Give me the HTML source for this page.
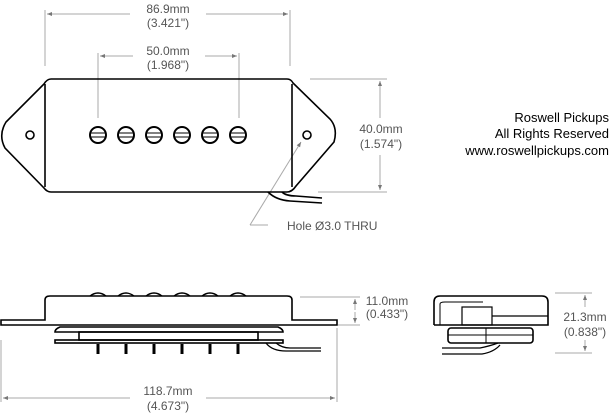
<!DOCTYPE html>
<html><head><style>body{margin:0;background:#fff}svg{display:block}text{font-family:"Liberation Sans",sans-serif}</style></head><body>
<svg width="614" height="416" viewBox="0 0 614 416" xmlns="http://www.w3.org/2000/svg">
<defs><marker id="a" viewBox="0 0 10 10" refX="10" refY="5" markerWidth="9" markerHeight="5" orient="auto-start-reverse"><path d="M0,1 L10,5 L0,9z" fill="#777"/></marker></defs>
<g stroke="#aaa" stroke-width="1" fill="none">
<line x1="45" y1="10" x2="45" y2="66"/><line x1="290" y1="10" x2="290" y2="66"/>
<line x1="47" y1="14" x2="130" y2="14" marker-start="url(#a)"/><line x1="206" y1="14" x2="288" y2="14" marker-end="url(#a)"/>
<line x1="98" y1="53" x2="98" y2="118"/><line x1="239" y1="53" x2="239" y2="118"/>
<line x1="100" y1="56" x2="133" y2="56" marker-start="url(#a)"/><line x1="205" y1="56" x2="237" y2="56" marker-end="url(#a)"/>
<line x1="310" y1="79" x2="387" y2="79"/><line x1="318" y1="192" x2="387" y2="192"/>
<line x1="380" y1="81" x2="380" y2="118" marker-start="url(#a)"/><line x1="380" y1="155" x2="380" y2="190" marker-end="url(#a)"/>
<line x1="250" y1="225" x2="301" y2="142" marker-end="url(#a)"/><line x1="250" y1="225" x2="268" y2="225"/>
<line x1="300" y1="297" x2="360" y2="297"/><line x1="338" y1="325" x2="360" y2="325"/>
<line x1="355" y1="299" x2="355" y2="310" marker-start="url(#a)"/><line x1="355" y1="312" x2="355" y2="323" marker-end="url(#a)"/>
<line x1="1" y1="340" x2="1" y2="402"/><line x1="337" y1="328" x2="337" y2="402"/>
<line x1="3" y1="398" x2="130" y2="398" marker-start="url(#a)"/><line x1="206" y1="398" x2="335" y2="398" marker-end="url(#a)"/>
<line x1="555" y1="293" x2="592" y2="293"/><line x1="555" y1="353" x2="592" y2="353"/>
<line x1="585" y1="295" x2="585" y2="307" marker-start="url(#a)"/><line x1="585" y1="340" x2="585" y2="351" marker-end="url(#a)"/>
</g>
<g fill="#555" font-size="12" text-anchor="middle">
<text x="168" y="13">86.9mm</text><text x="168" y="27">(3.421")</text>
<text x="168" y="55">50.0mm</text><text x="168" y="69">(1.968")</text>
<text x="381" y="133">40.0mm</text><text x="381" y="148">(1.574")</text>
<text x="387" y="305">11.0mm</text><text x="387" y="318">(0.433")</text>
<text x="168" y="395">118.7mm</text><text x="168" y="410">(4.673")</text>
<text x="585" y="321">21.3mm</text><text x="585" y="336">(0.838")</text>
<text x="287" y="230" text-anchor="start">Hole Ø3.0 THRU</text>
</g>
<g fill="#000" font-size="13" text-anchor="end">
<text x="609" y="122">Roswell Pickups</text><text x="609" y="138">All Rights Reserved</text><text x="609" y="155">www.roswellpickups.com</text>
</g>
<g stroke="#000" stroke-width="1.6" fill="none">
<path d="M51,79 H287 Q291,79 293,83 L330,119 Q338,128 334,142 L296,186 Q292,192 287,192 H51 Q47,192 44,188 L5,148 Q-2,135 6,122 L44,84 Q47,79 51,79z"/>
<line x1="45" y1="84" x2="45" y2="187"/><line x1="292" y1="84" x2="292" y2="187"/>
<circle cx="30" cy="135" r="4"/><circle cx="307" cy="135" r="4"/>
<path d="M268,192 Q276,200 290,201 L322,203" /><path d="M282,192 Q286,196 296,196 L322,198"/>
<g stroke-width="2">
<circle cx="98" cy="135" r="8"/><circle cx="126" cy="135" r="8"/><circle cx="154" cy="135" r="8"/><circle cx="182" cy="135" r="8"/><circle cx="210" cy="135" r="8"/><circle cx="238" cy="135" r="8"/>
</g>
<path d="M90,133H106M90,137H106M118,133H134M118,137H134M146,133H162M146,137H162M174,133H190M174,137H190M202,133H218M202,137H218M230,133H246M230,137H246" stroke-width="1"/>
<path d="M1,320 H45 V300 Q45,296 50,296 H287 Q292,296 292,300 V320 H337 V325 H1z"/>
<path d="M90,296 Q98,290 106,296 M118,296 Q126,290 134,296 M146,296 Q154,290 162,296 M174,296 Q182,290 190,296 M202,296 Q210,290 218,296 M230,296 Q238,290 246,296" stroke-width="1.4"/>
<path d="M60,327 H278 Q283,329 283,332 H55 Q55,329 60,327z"/>
<rect x="79" y="332" width="179" height="8"/>
<rect x="55" y="340" width="228" height="3"/>
<path d="M266,343 Q272,351 286,351 L321,351 M276,343 Q282,348 290,348 L321,348" stroke-width="1.3"/>
<g stroke-width="3"><path d="M98,344V354M126,344V354M154,344V354M182,344V354M210,344V354M238,344V354"/></g>
<path d="M434,325 V302 Q434,296 440,296 H542 Q548,296 548,302 V325 H434"/>
<path d="M440,325 V304 Q440,302 445,302 H483" stroke-width="1"/>
<rect x="462" y="307" width="30" height="18" stroke-width="1.2"/>
<line x1="492" y1="316" x2="548" y2="316" stroke-width="1.2"/>
<rect x="448" y="328" width="85" height="15" rx="3"/>
<line x1="448" y1="335" x2="533" y2="335" stroke-width="1"/>
<line x1="486" y1="328" x2="486" y2="343" stroke-width="1"/>
<path d="M442,348 H480 Q490,346 498,343 M442,354 H482 Q494,352 500,345" stroke-width="1.3"/>
</g>
</svg>
</body></html>
